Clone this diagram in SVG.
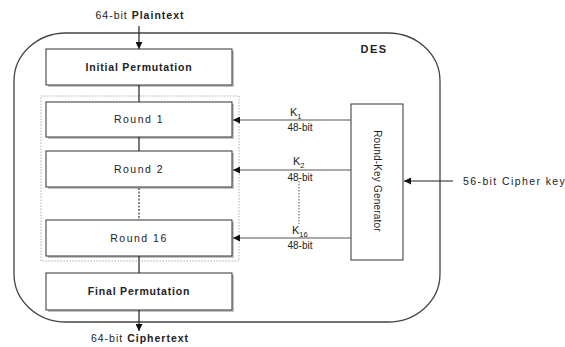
<svg xmlns="http://www.w3.org/2000/svg" width="565" height="347" viewBox="0 0 565 347">
  <defs>
    <marker id="ah" viewBox="0 0 10 10" refX="10" refY="5" markerWidth="7" markerHeight="7" markerUnits="userSpaceOnUse" orient="auto">
      <path d="M0,0 L10,5 L0,10 z" fill="#111"/>
    </marker>
  </defs>
  <style>
    text { font-family: "Liberation Sans", Arial, sans-serif; fill: #222; }
    .lbl { font-size: 10px; }
    .wide { font-size: 10.5px; letter-spacing: 1px; }
    .rnd { font-size: 10.5px; letter-spacing: 1.5px; }
    .perm { font-size: 10.5px; font-weight: bold; letter-spacing: 0.8px; }
    .bold { font-weight: bold; }
    .box { fill: #fff; stroke: #333; stroke-width: 1; }
    .shadow { fill: #c4c4c4; }
    .wire { stroke: #222; stroke-width: 1.2; fill: none; }
    .key { stroke: #555; stroke-width: 1; fill: none; }
    .dots { stroke: #333; stroke-width: 1.2; stroke-dasharray: 2 1.5; fill: none; }
  </style>
  <rect width="565" height="347" fill="#fff"/>

  <!-- DES enclosure -->
  <g id="des">
    <rect x="14" y="33" width="426" height="289" rx="52" ry="48" fill="none" stroke="#444" stroke-width="1.3"/>
    <text x="374" y="53" font-size="11" font-weight="bold" letter-spacing="1.5" text-anchor="middle">DES</text>
  </g>

  <!-- grouping of the rounds -->
  <g id="round-group">
    <rect x="41" y="96" width="198" height="165" fill="none" stroke="#999" stroke-width="0.8" stroke-dasharray="1.5 1.5"/>
  </g>

  <g id="initial-permutation">
    <rect x="48" y="51" width="186" height="36" class="shadow"/>
    <rect x="46" y="49" width="186" height="36" class="box"/>
    <text x="139" y="71" class="perm" text-anchor="middle">Initial Permutation</text>
  </g>
  <g id="round-1">
    <rect x="48" y="104" width="186" height="35" class="shadow"/>
    <rect x="46" y="102" width="186" height="35" class="box"/>
    <text x="139" y="123" class="rnd" text-anchor="middle">Round 1</text>
  </g>
  <g id="round-2">
    <rect x="48" y="153" width="186" height="36" class="shadow"/>
    <rect x="46" y="151" width="186" height="36" class="box"/>
    <text x="139" y="173" class="rnd" text-anchor="middle">Round 2</text>
  </g>
  <g id="round-16">
    <rect x="48" y="222" width="186" height="36" class="shadow"/>
    <rect x="46" y="220" width="186" height="36" class="box"/>
    <text x="139" y="242" class="rnd" text-anchor="middle">Round 16</text>
  </g>
  <g id="final-permutation">
    <rect x="48" y="275" width="186" height="37" class="shadow"/>
    <rect x="46" y="273" width="186" height="37" class="box"/>
    <text x="139" y="295" class="perm" text-anchor="middle">Final Permutation</text>
  </g>

  <g id="round-key-generator">
    <rect x="351" y="104" width="52" height="156" class="box"/>
    <text transform="translate(374,181) rotate(90)" class="lbl" text-anchor="middle" letter-spacing="0.2">Round-Key Generator</text>
  </g>

  <!-- external labels -->
  <g id="plaintext">
    <text x="140" y="19" class="wide" text-anchor="middle">64-bit <tspan class="bold">Plaintext</tspan></text>
  </g>
  <g id="ciphertext">
    <text x="140" y="342" class="wide" text-anchor="middle">64-bit <tspan class="bold">Ciphertext</tspan></text>
  </g>
  <g id="cipher-key">
    <text x="463" y="185" font-size="10.5" letter-spacing="1.4">56-bit Cipher key</text>
  </g>

  <!-- connectors -->
  <g id="connectors">
    <line x1="139" y1="26" x2="139" y2="49" class="wire" marker-end="url(#ah)"/>
    <line x1="139" y1="85" x2="139" y2="102" class="wire"/>
    <line x1="139" y1="137" x2="139" y2="151" class="wire"/>
    <line x1="139" y1="188" x2="139" y2="220" class="dots"/>
    <line x1="139" y1="256" x2="139" y2="273" class="wire" stroke-width="1.8"/>
    <line x1="139" y1="310" x2="139" y2="331" class="wire" marker-end="url(#ah)"/>

    <line x1="351" y1="120" x2="233" y2="120" class="key" marker-end="url(#ah)"/>
    <line x1="351" y1="170" x2="233" y2="170" class="key" marker-end="url(#ah)"/>
    <line x1="351" y1="238" x2="233" y2="238" class="key" marker-end="url(#ah)"/>
    <line x1="299" y1="181" x2="299" y2="224" stroke="#555" stroke-width="1" stroke-dasharray="1.5 1.5"/>
    <line x1="453" y1="181" x2="404" y2="181" class="wire" marker-end="url(#ah)"/>

    <text x="290" y="116" font-size="11">K<tspan font-size="7.5" dy="3">1</tspan></text>
    <text x="300" y="131" class="lbl" text-anchor="middle">48-bit</text>
    <text x="293" y="165" font-size="11">K<tspan font-size="7.5" dy="3">2</tspan></text>
    <text x="300" y="181" class="lbl" text-anchor="middle">48-bit</text>
    <text x="292" y="234" font-size="11">K<tspan font-size="7.5" dy="3">16</tspan></text>
    <text x="300" y="249" class="lbl" text-anchor="middle">48-bit</text>
  </g>
</svg>
